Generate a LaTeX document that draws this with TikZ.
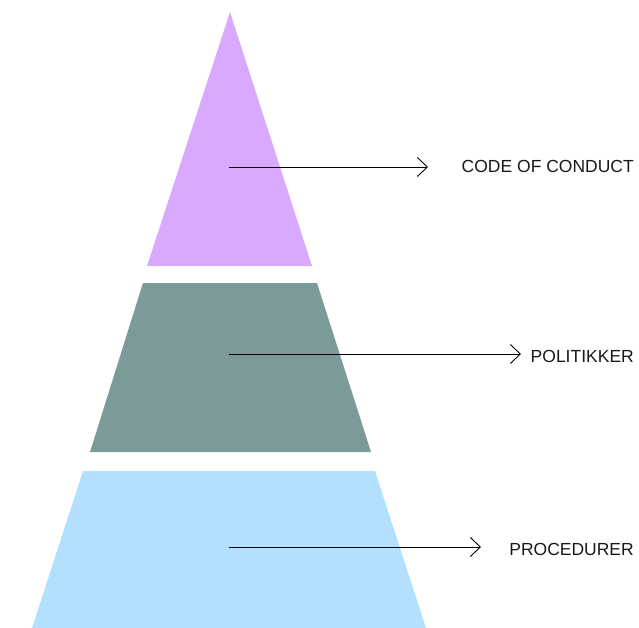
\documentclass[tikz,border=0pt]{standalone}
\usepackage{fontspec}
\setmainfont{Liberation Sans}
\usetikzlibrary{arrows.meta}
\definecolor{tierA}{HTML}{D8A9FE}
\definecolor{tierB}{HTML}{7B9A98}
\definecolor{tierC}{HTML}{B3E0FE}
\begin{document}
\begin{tikzpicture}[x=1pt,y=-1pt,
  lbl/.style={anchor=east,inner sep=0pt,font=\fontsize{17.5}{20}\selectfont,text=black!90},
  pointer/.style={line width=0.8pt,-{Straight Barb[length=10pt,width=19pt,line width=0.9pt]}}]
\useasboundingbox (0,0) rectangle (639,628);
\fill[tierA] (230,12) -- (312,266) -- (147,266) -- cycle;
\fill[tierB] (143,283) -- (317,283) -- (371,452) -- (90,452) -- cycle;
\fill[tierC] (83,471) -- (375,471) -- (426,628) -- (32,628) -- cycle;
\coordinate (s1) at (229,167);
\coordinate (e1) at (428,167);
\coordinate (s2) at (229,354);
\coordinate (e2) at (521,354);
\coordinate (s3) at (229,547);
\coordinate (e3) at (481,547);
\node[lbl] (t1) at (634,166) {CODE OF CONDUCT};
\node[lbl] (t2) at (634,356) {POLITIKKER};
\node[lbl] (t3) at (634,549) {PROCEDURER};
\draw[pointer] (s1) -- (e1);
\draw[pointer] (s2) -- (e2);
\draw[pointer] (s3) -- (e3);
\end{tikzpicture}
\end{document}
